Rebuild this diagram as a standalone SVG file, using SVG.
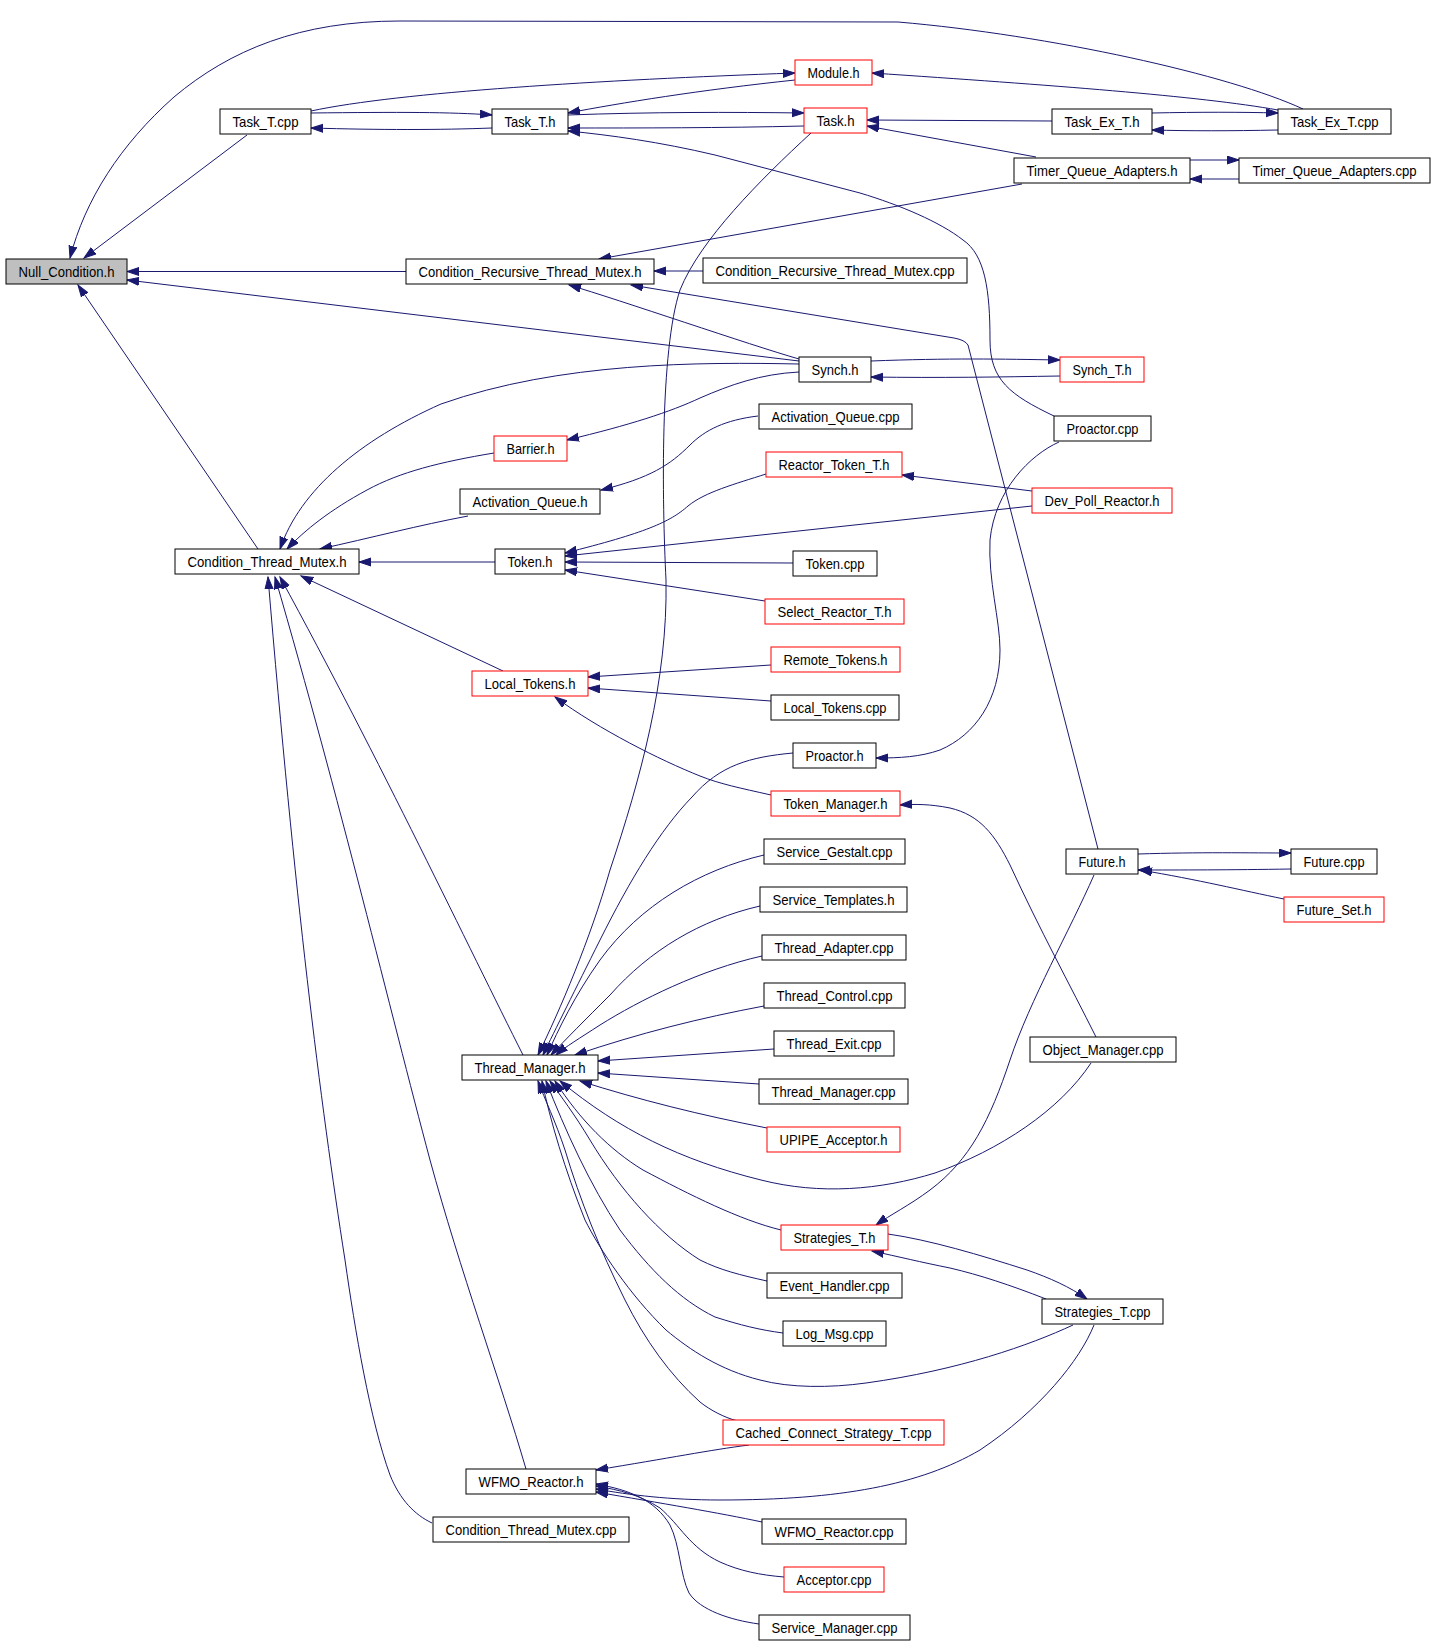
<svg xmlns="http://www.w3.org/2000/svg" width="1435" height="1644" viewBox="0 0 1435 1644">
<style>
.n rect{fill:#ffffff;stroke:#000000;stroke-width:1}
.n.r rect{stroke:#ff0000}
.n.g rect{fill:#bfbfbf}
.n text{font-family:"Liberation Sans Narrow","Liberation Sans",Arial,sans-serif;font-size:15px;fill:#000000;text-anchor:middle}
#edges path{fill:none;stroke:#191970;stroke-width:1;marker-end:url(#a)}
</style>
<defs>
<marker id="a" markerUnits="userSpaceOnUse" markerWidth="14" markerHeight="10" refX="12" refY="4.5" orient="auto">
<path d="M0,0.5 L12,4.5 L0,8.5 z" fill="#191970" stroke="#191970" stroke-width="1"/>
</marker>
</defs>
<rect x="0" y="0" width="1435" height="1644" fill="#ffffff"/>
<g id="edges">
<path d="M1303,109 C1230,75 1050,35 898,22 L400,21 C300,21 230,50 174,97 C120,145 85,200 70,258"/>
<path d="M247,135 L84,258"/>
<path d="M406,271.5 L127,271.5"/>
<path d="M799,361 L127,280"/>
<path d="M258,549 L78,285"/>
<path d="M311,113 C400,112 450,112 492,115"/>
<path d="M492,128 C440,130 380,130 311,128"/>
<path d="M311,111 C400,92 600,80 795,73"/>
<path d="M795,80 C700,90 620,103 568,113"/>
<path d="M568,115 C650,112 730,112 804,113"/>
<path d="M804,126 C720,128 640,128 568,128"/>
<path d="M1054,416 C1010,395 990,380 990,340 C990,290 985,255 963,240 C940,222 900,205 860,193 L715,155 C660,142 610,135 568,131"/>
<path d="M1278,110 C1200,96 1050,85 872,73"/>
<path d="M1152,113 C1200,112 1240,112 1278,113"/>
<path d="M1278,130 C1230,131 1190,131 1152,130"/>
<path d="M1052,121 L867,120"/>
<path d="M1036,157 L867,126"/>
<path d="M1190,160 L1239,160"/>
<path d="M1239,179 L1190,179"/>
<path d="M1022,184 L599,259"/>
<path d="M811,133 C760,180 700,240 680,290 C660,350 662,500 666,580 C668,680 640,780 610,870 C590,940 560,1010 538,1055"/>
<path d="M703,271 L654,271"/>
<path d="M1098,849 L968,345 Q965,340 954,338 L631,285"/>
<path d="M799,359 C750,345 620,300 569,285"/>
<path d="M871,361 C950,358 1000,359 1060,360"/>
<path d="M1060,376 C1000,377 940,378 871,377"/>
<path d="M799,364 C700,362 560,362 441,404 C360,440 300,490 280,549"/>
<path d="M799,372 C760,374 730,385 700,398 C670,412 630,425 567,440"/>
<path d="M494,453 C440,462 400,472 367,490 C330,510 305,530 287,549"/>
<path d="M758,416 C725,420 705,430 690,445 C670,465 650,478 601,490"/>
<path d="M468,516 C420,525 370,538 320,549"/>
<path d="M495,562 L359,562"/>
<path d="M766,474 C735,484 705,492 688,506 C670,522 645,533 565,553"/>
<path d="M1032,491 L902,475"/>
<path d="M1032,506 L565,556"/>
<path d="M793,563 L565,562"/>
<path d="M765,601 L565,570"/>
<path d="M503,671 L301,576"/>
<path d="M771,665 L588,677"/>
<path d="M771,701 L588,688"/>
<path d="M771,795 C740,788 720,784 700,776 C660,760 600,730 555,697"/>
<path d="M1059,442 C1030,455 995,490 990,540 C988,580 1000,620 1000,650 C1000,700 975,735 940,750 C920,757 900,758 876,758"/>
<path d="M793,753 C750,757 720,765 692,797 C660,830 630,880 600,940 C575,990 555,1030 543,1055"/>
<path d="M1096,1037 C1070,985 1040,930 1010,865 C995,835 980,815 950,808 C930,804 915,804 900,805"/>
<path d="M1091,1063 C1060,1110 1000,1150 935,1173 C880,1190 820,1195 761,1180 C680,1160 620,1130 560,1081"/>
<path d="M764,855 C700,870 640,905 600,960 C575,995 558,1030 547,1055"/>
<path d="M760,906 C700,920 650,950 610,995 C585,1020 565,1040 551,1055"/>
<path d="M762,956 C700,970 640,1000 600,1025 C580,1038 565,1047 556,1055"/>
<path d="M764,1006 C700,1018 640,1033 575,1055"/>
<path d="M774,1049 L598,1061"/>
<path d="M759,1084 L598,1073"/>
<path d="M767,1128 C700,1115 640,1100 580,1081"/>
<path d="M781,1230 C740,1220 690,1195 643,1170 C610,1150 580,1120 555,1081"/>
<path d="M767,1281 C740,1275 720,1270 700,1260 C660,1235 620,1190 590,1140 C575,1115 560,1095 550,1081"/>
<path d="M783,1333 C760,1330 740,1325 715,1317 C680,1300 650,1270 620,1230 C590,1185 565,1130 546,1081"/>
<path d="M1073,1325 C1030,1345 960,1370 866,1383 C830,1388 790,1388 760,1380 C720,1370 690,1350 666,1330 C630,1295 600,1250 585,1220 C565,1170 550,1120 542,1081"/>
<path d="M738,1421 C725,1418 710,1410 700,1402 C670,1375 645,1340 625,1300 C600,1250 580,1200 565,1150 C555,1120 545,1100 538,1081"/>
<path d="M523,1055 C470,950 380,760 280,577"/>
<path d="M526,1469 C500,1380 460,1270 430,1160 C390,1010 340,800 275,577"/>
<path d="M432,1523 C415,1515 400,1500 390,1475 C370,1420 355,1330 345,1260 C320,1100 295,900 268,577"/>
<path d="M1138,854 C1200,852 1250,853 1291,853"/>
<path d="M1291,869 C1230,870 1180,870 1138,870"/>
<path d="M1284,899 C1240,890 1200,880 1140,870"/>
<path d="M1094,875 C1070,930 1030,1000 1010,1060 C990,1120 970,1160 930,1190 C910,1205 890,1215 876,1225"/>
<path d="M1046,1299 C1010,1285 980,1275 950,1268 C920,1262 900,1257 872,1251"/>
<path d="M888,1234 C930,1240 980,1255 1027,1270 C1050,1278 1070,1287 1087,1299"/>
<path d="M749,1445 C710,1450 670,1458 596,1470"/>
<path d="M1094,1325 C1080,1360 1040,1410 980,1450 C920,1485 840,1500 720,1500 C670,1500 630,1495 596,1489"/>
<path d="M762,1522 C720,1513 660,1503 596,1492"/>
<path d="M784,1577 C760,1575 740,1571 720,1562 C690,1548 680,1525 660,1508 C640,1495 620,1490 596,1486"/>
<path d="M759,1624 C730,1620 700,1610 689,1593 C680,1575 680,1545 670,1525 C655,1500 630,1490 596,1484"/>
</g>
<g id="n1" class="n g"><rect x="6" y="259" width="121" height="25"/><text x="66.5" y="276.5" textLength="96" lengthAdjust="spacingAndGlyphs">Null_Condition.h</text></g>
<g id="n2" class="n"><rect x="220" y="109" width="91" height="25"/><text x="265.5" y="126.5" textLength="66" lengthAdjust="spacingAndGlyphs">Task_T.cpp</text></g>
<g id="n3" class="n"><rect x="492" y="109" width="76" height="25"/><text x="530" y="126.5" textLength="51" lengthAdjust="spacingAndGlyphs">Task_T.h</text></g>
<g id="n4" class="n r"><rect x="795" y="60" width="77" height="25"/><text x="833.5" y="77.5" textLength="52" lengthAdjust="spacingAndGlyphs">Module.h</text></g>
<g id="n5" class="n r"><rect x="804" y="108" width="63" height="25"/><text x="835.5" y="125.5" textLength="38" lengthAdjust="spacingAndGlyphs">Task.h</text></g>
<g id="n6" class="n"><rect x="1052" y="109" width="100" height="25"/><text x="1102" y="126.5" textLength="75" lengthAdjust="spacingAndGlyphs">Task_Ex_T.h</text></g>
<g id="n7" class="n"><rect x="1278" y="109" width="113" height="25"/><text x="1334.5" y="126.5" textLength="88" lengthAdjust="spacingAndGlyphs">Task_Ex_T.cpp</text></g>
<g id="n8" class="n"><rect x="1014" y="158" width="176" height="25"/><text x="1102" y="175.5" textLength="151" lengthAdjust="spacingAndGlyphs">Timer_Queue_Adapters.h</text></g>
<g id="n9" class="n"><rect x="1239" y="158" width="191" height="25"/><text x="1334.5" y="175.5" style="font-size:14px" textLength="164" lengthAdjust="spacingAndGlyphs">Timer_Queue_Adapters.cpp</text></g>
<g id="n10" class="n"><rect x="406" y="259" width="248" height="25"/><text x="530" y="276.5" textLength="223" lengthAdjust="spacingAndGlyphs">Condition_Recursive_Thread_Mutex.h</text></g>
<g id="n11" class="n"><rect x="703" y="258" width="264" height="25"/><text x="835" y="275.5" textLength="239" lengthAdjust="spacingAndGlyphs">Condition_Recursive_Thread_Mutex.cpp</text></g>
<g id="n12" class="n"><rect x="799" y="357" width="72" height="25"/><text x="835" y="374.5" textLength="47" lengthAdjust="spacingAndGlyphs">Synch.h</text></g>
<g id="n13" class="n r"><rect x="1060" y="357" width="84" height="25"/><text x="1102" y="374.5" textLength="59" lengthAdjust="spacingAndGlyphs">Synch_T.h</text></g>
<g id="n14" class="n"><rect x="759" y="404" width="153" height="25"/><text x="835.5" y="421.5" textLength="128" lengthAdjust="spacingAndGlyphs">Activation_Queue.cpp</text></g>
<g id="n15" class="n"><rect x="1054" y="416" width="97" height="25"/><text x="1102.5" y="433.5" textLength="72" lengthAdjust="spacingAndGlyphs">Proactor.cpp</text></g>
<g id="n16" class="n r"><rect x="494" y="436" width="73" height="25"/><text x="530.5" y="453.5" textLength="48" lengthAdjust="spacingAndGlyphs">Barrier.h</text></g>
<g id="n17" class="n r"><rect x="766" y="452" width="136" height="25"/><text x="834" y="469.5" textLength="111" lengthAdjust="spacingAndGlyphs">Reactor_Token_T.h</text></g>
<g id="n18" class="n r"><rect x="1032" y="488" width="140" height="25"/><text x="1102" y="505.5" textLength="115" lengthAdjust="spacingAndGlyphs">Dev_Poll_Reactor.h</text></g>
<g id="n19" class="n"><rect x="460" y="489" width="140" height="25"/><text x="530" y="506.5" textLength="115" lengthAdjust="spacingAndGlyphs">Activation_Queue.h</text></g>
<g id="n20" class="n"><rect x="175" y="549" width="184" height="25"/><text x="267" y="566.5" textLength="159" lengthAdjust="spacingAndGlyphs">Condition_Thread_Mutex.h</text></g>
<g id="n21" class="n"><rect x="495" y="549" width="70" height="25"/><text x="530" y="566.5" textLength="45" lengthAdjust="spacingAndGlyphs">Token.h</text></g>
<g id="n22" class="n"><rect x="793" y="551" width="84" height="25"/><text x="835" y="568.5" textLength="59" lengthAdjust="spacingAndGlyphs">Token.cpp</text></g>
<g id="n23" class="n r"><rect x="765" y="599" width="139" height="25"/><text x="834.5" y="616.5" textLength="114" lengthAdjust="spacingAndGlyphs">Select_Reactor_T.h</text></g>
<g id="n24" class="n r"><rect x="771" y="647" width="129" height="25"/><text x="835.5" y="664.5" textLength="104" lengthAdjust="spacingAndGlyphs">Remote_Tokens.h</text></g>
<g id="n25" class="n r"><rect x="472" y="671" width="116" height="25"/><text x="530" y="688.5" textLength="91" lengthAdjust="spacingAndGlyphs">Local_Tokens.h</text></g>
<g id="n26" class="n"><rect x="771" y="695" width="128" height="25"/><text x="835" y="712.5" textLength="103" lengthAdjust="spacingAndGlyphs">Local_Tokens.cpp</text></g>
<g id="n27" class="n"><rect x="793" y="743" width="83" height="25"/><text x="834.5" y="760.5" textLength="58" lengthAdjust="spacingAndGlyphs">Proactor.h</text></g>
<g id="n28" class="n r"><rect x="771" y="791" width="129" height="25"/><text x="835.5" y="808.5" textLength="104" lengthAdjust="spacingAndGlyphs">Token_Manager.h</text></g>
<g id="n29" class="n"><rect x="764" y="839" width="141" height="25"/><text x="834.5" y="856.5" textLength="116" lengthAdjust="spacingAndGlyphs">Service_Gestalt.cpp</text></g>
<g id="n30" class="n"><rect x="760" y="887" width="147" height="25"/><text x="833.5" y="904.5" textLength="122" lengthAdjust="spacingAndGlyphs">Service_Templates.h</text></g>
<g id="n31" class="n"><rect x="1066" y="849" width="72" height="25"/><text x="1102" y="866.5" textLength="47" lengthAdjust="spacingAndGlyphs">Future.h</text></g>
<g id="n32" class="n"><rect x="1291" y="849" width="86" height="25"/><text x="1334" y="866.5" textLength="61" lengthAdjust="spacingAndGlyphs">Future.cpp</text></g>
<g id="n33" class="n r"><rect x="1284" y="897" width="100" height="25"/><text x="1334" y="914.5" textLength="75" lengthAdjust="spacingAndGlyphs">Future_Set.h</text></g>
<g id="n34" class="n"><rect x="762" y="935" width="144" height="25"/><text x="834" y="952.5" textLength="119" lengthAdjust="spacingAndGlyphs">Thread_Adapter.cpp</text></g>
<g id="n35" class="n"><rect x="764" y="983" width="141" height="25"/><text x="834.5" y="1000.5" textLength="116" lengthAdjust="spacingAndGlyphs">Thread_Control.cpp</text></g>
<g id="n36" class="n"><rect x="774" y="1031" width="120" height="25"/><text x="834" y="1048.5" textLength="95" lengthAdjust="spacingAndGlyphs">Thread_Exit.cpp</text></g>
<g id="n37" class="n"><rect x="1030" y="1037" width="146" height="25"/><text x="1103" y="1054.5" textLength="121" lengthAdjust="spacingAndGlyphs">Object_Manager.cpp</text></g>
<g id="n38" class="n"><rect x="462" y="1055" width="136" height="25"/><text x="530" y="1072.5" textLength="111" lengthAdjust="spacingAndGlyphs">Thread_Manager.h</text></g>
<g id="n39" class="n"><rect x="759" y="1079" width="149" height="25"/><text x="833.5" y="1096.5" textLength="124" lengthAdjust="spacingAndGlyphs">Thread_Manager.cpp</text></g>
<g id="n40" class="n r"><rect x="767" y="1127" width="133" height="25"/><text x="833.5" y="1144.5" textLength="108" lengthAdjust="spacingAndGlyphs">UPIPE_Acceptor.h</text></g>
<g id="n41" class="n r"><rect x="781" y="1225" width="107" height="25"/><text x="834.5" y="1242.5" textLength="82" lengthAdjust="spacingAndGlyphs">Strategies_T.h</text></g>
<g id="n42" class="n"><rect x="767" y="1273" width="135" height="25"/><text x="834.5" y="1290.5" textLength="110" lengthAdjust="spacingAndGlyphs">Event_Handler.cpp</text></g>
<g id="n43" class="n"><rect x="1042" y="1299" width="121" height="25"/><text x="1102.5" y="1316.5" textLength="96" lengthAdjust="spacingAndGlyphs">Strategies_T.cpp</text></g>
<g id="n44" class="n"><rect x="783" y="1321" width="103" height="25"/><text x="834.5" y="1338.5" textLength="78" lengthAdjust="spacingAndGlyphs">Log_Msg.cpp</text></g>
<g id="n45" class="n r"><rect x="723" y="1420" width="221" height="25"/><text x="833.5" y="1437.5" textLength="196" lengthAdjust="spacingAndGlyphs">Cached_Connect_Strategy_T.cpp</text></g>
<g id="n46" class="n"><rect x="466" y="1469" width="130" height="25"/><text x="531" y="1486.5" textLength="105" lengthAdjust="spacingAndGlyphs">WFMO_Reactor.h</text></g>
<g id="n47" class="n"><rect x="433" y="1517" width="196" height="25"/><text x="531" y="1534.5" textLength="171" lengthAdjust="spacingAndGlyphs">Condition_Thread_Mutex.cpp</text></g>
<g id="n48" class="n"><rect x="762" y="1519" width="144" height="25"/><text x="834" y="1536.5" textLength="119" lengthAdjust="spacingAndGlyphs">WFMO_Reactor.cpp</text></g>
<g id="n49" class="n r"><rect x="784" y="1567" width="100" height="25"/><text x="834" y="1584.5" textLength="75" lengthAdjust="spacingAndGlyphs">Acceptor.cpp</text></g>
<g id="n50" class="n"><rect x="759" y="1615" width="151" height="25"/><text x="834.5" y="1632.5" textLength="126" lengthAdjust="spacingAndGlyphs">Service_Manager.cpp</text></g>
</svg>
